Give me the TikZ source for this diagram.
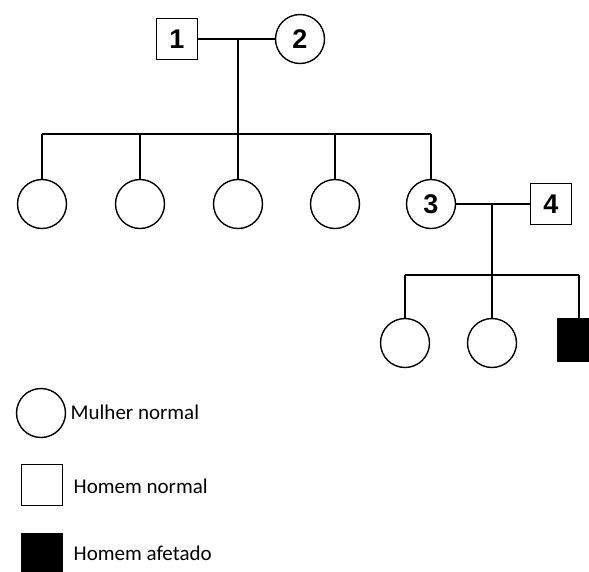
\documentclass[tikz,border=0pt]{standalone}
\usepackage{fontspec}
\setmainfont{Carlito}
\newfontfamily\numfont{Liberation Sans}
\begin{document}
\begin{tikzpicture}[x=1pt,y=-1pt,
  line width=1.4pt,
  male/.style={draw, rectangle, minimum size=41pt, inner sep=0pt, font=\numfont\bfseries\fontsize{27}{27}\selectfont},
  female/.style={draw, circle, minimum size=49pt, inner sep=0pt, font=\numfont\bfseries\fontsize{27}{27}\selectfont},
  affected/.style={draw, fill=black, rectangle, minimum size=43pt, inner sep=0pt},
  legtext/.style={anchor=west, inner sep=0pt, font=\fontsize{21}{21}\selectfont}]
\useasboundingbox (0,0) rectangle (589,571);
% generation I
\node[male] (p1) at (177,39) {1};
\node[female] (p2) at (300,39) {2};
\draw (p1) -- (p2);
\coordinate (m12) at (238,39);
\coordinate (s1) at (238,134);
\draw (m12) -- (s1);
% generation II
\node[female] (c1) at (42,204) {};
\node[female] (c2) at (140,204) {};
\node[female] (c3) at (238,204) {};
\node[female] (c4) at (335,204) {};
\node[female] (p3) at (431,204) {3};
\node[male] (p4) at (551,204) {4};
\coordinate (sl) at (42,134);
\coordinate (sr) at (431,134);
\draw (sl) -- (sr);
\foreach \c in {c1,c2,c3,c4,p3}{\draw (\c.north |- sl) -- (\c.north);}
\draw (p3) -- (p4);
\coordinate (m34) at (492,204);
\coordinate (s2) at (492,275);
\draw (m34) -- (s2);
% generation III
\node[female] (d1) at (405,343) {};
\node[female] (d2) at (492,343) {};
\node[affected] (d3) at (579,340) {};
\coordinate (tl) at (405,275);
\coordinate (tr) at (579,275);
\draw (tl) -- (tr);
\foreach \c in {d1,d2,d3}{\draw (\c.north |- tl) -- (\c.north);}
% legend
\node[female] (lf) at (41,413) {};
\node[legtext] (lft) at (70,412) {Mulher normal};
\node[male] (lm) at (42,485) {};
\node[legtext] (lmt) at (73,486) {Homem normal};
\node[affected, minimum size=41pt] (la) at (42,554) {};
\node[legtext] (lat) at (73,553) {Homem afetado};
\end{tikzpicture}
\end{document}
